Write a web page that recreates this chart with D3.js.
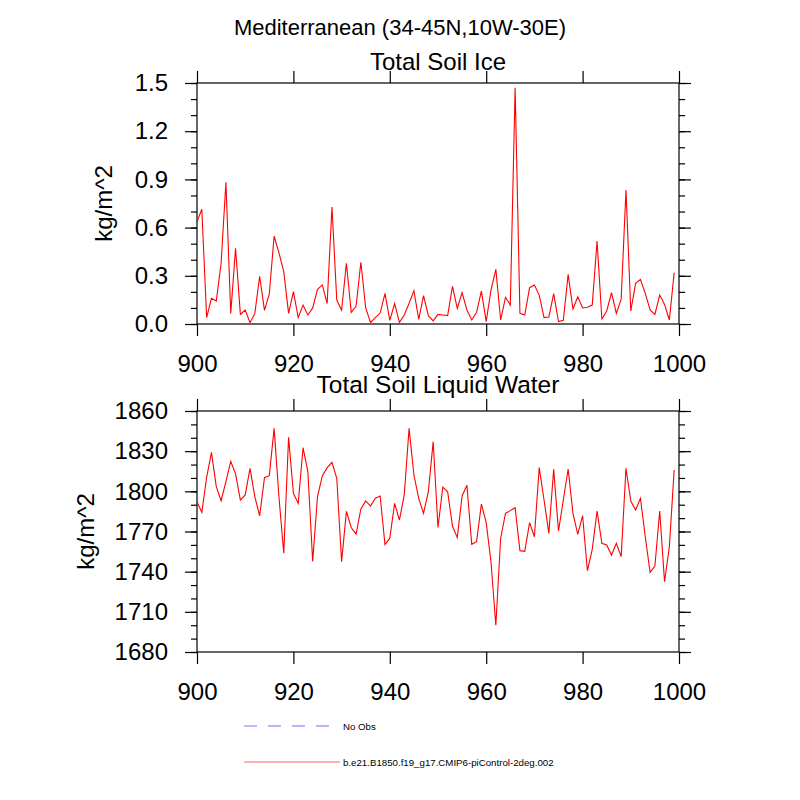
<!DOCTYPE html>
<html>
<head>
<meta charset="utf-8">
<script src="https://d3js.org/d3.v7.min.js"></script>
<style>
  body { margin: 0; background: #fff; }
  svg text { font-family: "Liberation Sans", Arial, Helvetica, sans-serif; fill: #000; }
</style>
</head>
<body>
<div id="canvas"></div>
<script>
// values
var years = d3.range(900, 1000);
var xTicks = [900, 920, 940, 960, 980, 1000];

var iceValues = [
  0.637, 0.714, 0.04, 0.16, 0.143, 0.378, 0.882, 0.066, 0.471, 0.06,
  0.087, 0.008, 0.066, 0.297, 0.085, 0.187, 0.546, 0.444, 0.326, 0.066,
  0.201, 0.04, 0.118, 0.056, 0.10, 0.216, 0.243, 0.127, 0.728, 0.149,
  0.085, 0.378, 0.073, 0.11, 0.384, 0.10, 0.01, 0.04, 0.068, 0.191,
  0.023, 0.127, 0.01, 0.056, 0.129, 0.207, 0.029, 0.176, 0.052, 0.019,
  0.06, 0.056, 0.052, 0.234, 0.098, 0.195, 0.087, 0.025, 0.073, 0.205,
  0.015, 0.212, 0.34, 0.025, 0.166, 0.118, 1.471, 0.066, 0.056, 0.226,
  0.243, 0.18, 0.04, 0.044, 0.189, 0.015, 0.023, 0.309, 0.093, 0.17,
  0.10, 0.104, 0.118, 0.517, 0.031, 0.081, 0.195, 0.066, 0.154, 0.834,
  0.081, 0.253, 0.278, 0.191, 0.087, 0.06, 0.18, 0.122, 0.025, 0.32
];
var iceTicks = [0, 0.3, 0.6, 0.9, 1.2, 1.5];
var iceMinor = d3.range(0, 16).map(function(i){ return i / 10; });

var liquidValues = [
  1792.3, 1784.3, 1810.5, 1829.1, 1803.5, 1793, 1807.2, 1822.4, 1813, 1793.5,
  1797.3, 1817.2, 1796, 1781.6, 1810.2, 1811.7, 1847, 1796, 1753.7, 1840.3,
  1798.5, 1791, 1832.6, 1814.7, 1747.7, 1796, 1811.5, 1817.7, 1821.7, 1809.7,
  1747.5, 1785, 1773, 1768, 1786.8, 1792.8, 1789, 1794.8, 1796.5, 1760.2,
  1765, 1791, 1778.6, 1797.3, 1847, 1812.2, 1794.8, 1783.6, 1799.7, 1837.1,
  1773, 1803.2, 1799.7, 1774.1, 1765.4, 1796.5, 1804.5, 1760.4, 1762.4, 1790.5,
  1776.6, 1747, 1700, 1765, 1783.6, 1785.6, 1787.8, 1755.7, 1755.2, 1776.6,
  1766.1, 1817.7, 1793.5, 1768.6, 1816.4, 1770.4, 1793.5, 1816.7, 1783.6, 1767.9,
  1781.8, 1740.7, 1756.7, 1785.3, 1761.2, 1759.9, 1752.4, 1761.2, 1751.2, 1817.2,
  1792.8, 1786, 1794.8, 1766.1, 1739.5, 1744.2, 1785.3, 1732.5, 1758.7, 1816
];
var liquidTicks = [1680, 1710, 1740, 1770, 1800, 1830, 1860];
var liquidMinor = d3.range(1680, 1861, 10);

var legendNames = ["No Obs", "b.e21.B1850.f19_g17.CMIP6-piControl-2deg.002"];

(function(){

    var svg = d3.select("#canvas").append("svg").attr("width", 800).attr("height", 800);

    var left = 197, right = 679;
    var x = d3.scaleLinear().domain([900, 1000]).range([left, right]);

    function drawPanel(top, bottom, values, domain, ticks, minor, fmt, title, titleY, titleSize, labelX){
        var y = d3.scaleLinear().domain(domain).range([bottom, top]);
        var g = svg.append("g");

        function axis(gen, tx, ty, size, vals, labels){
            var a = gen.tickValues(vals).tickSize(size).tickSizeOuter(0);
            if (labels) a.tickFormat(labels.fmt).tickPadding(labels.pad);
            else a.tickFormat("");
            var ax = g.append("g").attr("transform", "translate(" + tx + "," + ty + ")").call(a);
            ax.select(".domain").remove();
            ax.selectAll("line").attr("stroke", "#000").attr("stroke-width", 1.2);
            ax.selectAll("text").style("font-size", "24px");
            return ax;
        }

        // minor ticks
        axis(d3.axisLeft(y), left, 0, 6, minor);
        axis(d3.axisRight(y), right, 0, 6, minor);
        // major ticks
        axis(d3.axisLeft(y), left, 0, 12, ticks, {fmt: fmt, pad: 17});
        axis(d3.axisRight(y), right, 0, 12, ticks);
        axis(d3.axisTop(x), 0, top, 12, xTicks);
        axis(d3.axisBottom(x), 0, bottom, 12, xTicks, {fmt: d3.format("d"), pad: 19});

        g.append("rect")
            .attr("x", left).attr("y", top)
            .attr("width", right - left).attr("height", bottom - top)
            .attr("fill", "none").attr("stroke", "#000").attr("stroke-width", 1.2);

        var line = d3.line()
            .x(function(d, i){ return x(years[i]); })
            .y(function(d){ return y(d); });

        g.append("path")
            .datum(values)
            .attr("d", line)
            .attr("fill", "none")
            .attr("stroke", "#ff0000")
            .attr("stroke-width", 1.1);

        g.append("text")
            .attr("x", (left + right) / 2).attr("y", titleY)
            .attr("text-anchor", "middle")
            .style("font-size", titleSize)
            .text(title);

        g.append("text")
            .attr("transform", "translate(" + labelX + "," + (top + bottom) / 2 + ") rotate(-90)")
            .attr("text-anchor", "middle")
            .style("font-size", "24px")
            .text("kg/m^2");
    }

    svg.append("text")
        .attr("x", 400).attr("y", 35)
        .attr("text-anchor", "middle")
        .style("font-size", "22px")
        .text("Mediterranean (34-45N,10W-30E)");

    drawPanel(83, 324, iceValues, [0, 1.5], iceTicks, iceMinor, d3.format(".1f"),
        "Total Soil Ice", 70, "24px", 112);
    drawPanel(411, 652, liquidValues, [1680, 1860], liquidTicks, liquidMinor, d3.format("d"),
        "Total Soil Liquid Water", 392.5, "24.5px", 94);

    // legend
    var legend = svg.append("g");
    var rows = [
        {y: 726, color: "#b4b4ff", dash: "13,11"},
        {y: 762, color: "#ffb0b0", dash: null}
    ];
    rows.forEach(function(r, i){
        legend.append("line")
            .attr("x1", 244).attr("x2", 340)
            .attr("y1", r.y).attr("y2", r.y)
            .attr("stroke", r.color)
            .attr("stroke-width", 1.8)
            .attr("stroke-dasharray", r.dash);
        legend.append("text")
            .attr("x", 343).attr("y", r.y + 3.5)
            .style("font-size", "9.7px")
            .text(legendNames[i]);
    });

})();
</script>
</body>
</html>
